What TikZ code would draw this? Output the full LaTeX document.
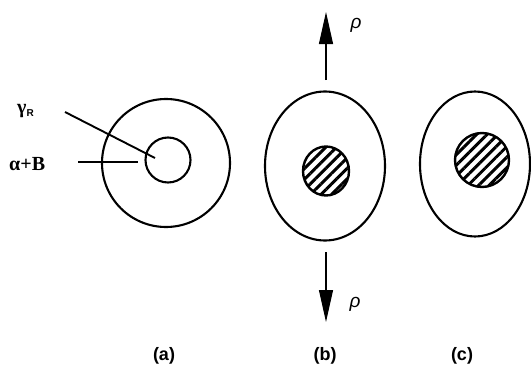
\documentclass[tikz,border=0pt]{standalone}
\usepackage{fontspec}
\setmainfont{Liberation Serif}
\newfontfamily\lblfont{Liberation Sans}
\usetikzlibrary{shapes.geometric,arrows.meta,patterns.meta}
\tikzset{
  ring/.style={draw, line width=2.1pt, inner sep=0pt},
  hatched/.style={draw, line width=2.4pt, inner sep=0pt,
    pattern={Lines[angle=45,distance=7.5pt,line width=3pt]}},
  leader/.style={line width=1.9pt},
  force/.style={line width=1.1pt, -{Triangle[length=32pt,width=14pt]}},
  caption/.style={font=\lblfont\bfseries\fontsize{18}{20}\selectfont},
  symb/.style={font=\bfseries\fontsize{20}{22}\selectfont},
  mom/.style={font=\lblfont\itshape\fontsize{19}{21}\selectfont}
}
\begin{document}
\begin{tikzpicture}[x=1pt,y=-1pt]
\useasboundingbox (0,0) rectangle (531,367);
% (a)
\node[ring, circle, minimum size=128pt] (aout) at (166,163) {};
\node[ring, circle, minimum size=45pt] (ain) at (168,160) {};
\node[symb, anchor=west, inner sep=0pt] (gam) at (17,111) {γ\raisebox{-3pt}{\fontsize{10}{12}\selectfont\lblfont\bfseries R}};
\node[symb, anchor=west, inner sep=0pt] (ab) at (9,164) {α+B};
\coordinate (g1) at (65,112);
\coordinate (g2) at (155,158);
\coordinate (b1) at (78,162);
\coordinate (b2) at (138,162);
\draw[leader] (g1) -- (g2);
\draw[leader] (b1) -- (b2);
% (b)
\node[ring, ellipse, minimum width=120pt, minimum height=149pt] (bout) at (325,166) {};
\node[hatched, ellipse, minimum width=46pt, minimum height=49pt] (bin) at (326,171) {};
\coordinate (bt1) at (326,80);
\coordinate (bt2) at (326,12);
\coordinate (bb1) at (326,252);
\coordinate (bb2) at (326,322);
\draw[force] (bt1) -- (bt2);
\draw[force] (bb1) -- (bb2);
\node[mom] (p1) at (356,25) {ρ};
\node[mom] (p2) at (355,304) {ρ};
% (c)
\node[ring, ellipse, minimum width=110pt, minimum height=145pt] (cout) at (475,164) {};
\node[hatched, circle, minimum size=54pt] (cin) at (482,160) {};
% captions
\node[caption] (ca) at (164,356) {(a)};
\node[caption] (cb) at (325,356) {(b)};
\node[caption] (cc) at (462,356) {(c)};
\end{tikzpicture}
\end{document}
